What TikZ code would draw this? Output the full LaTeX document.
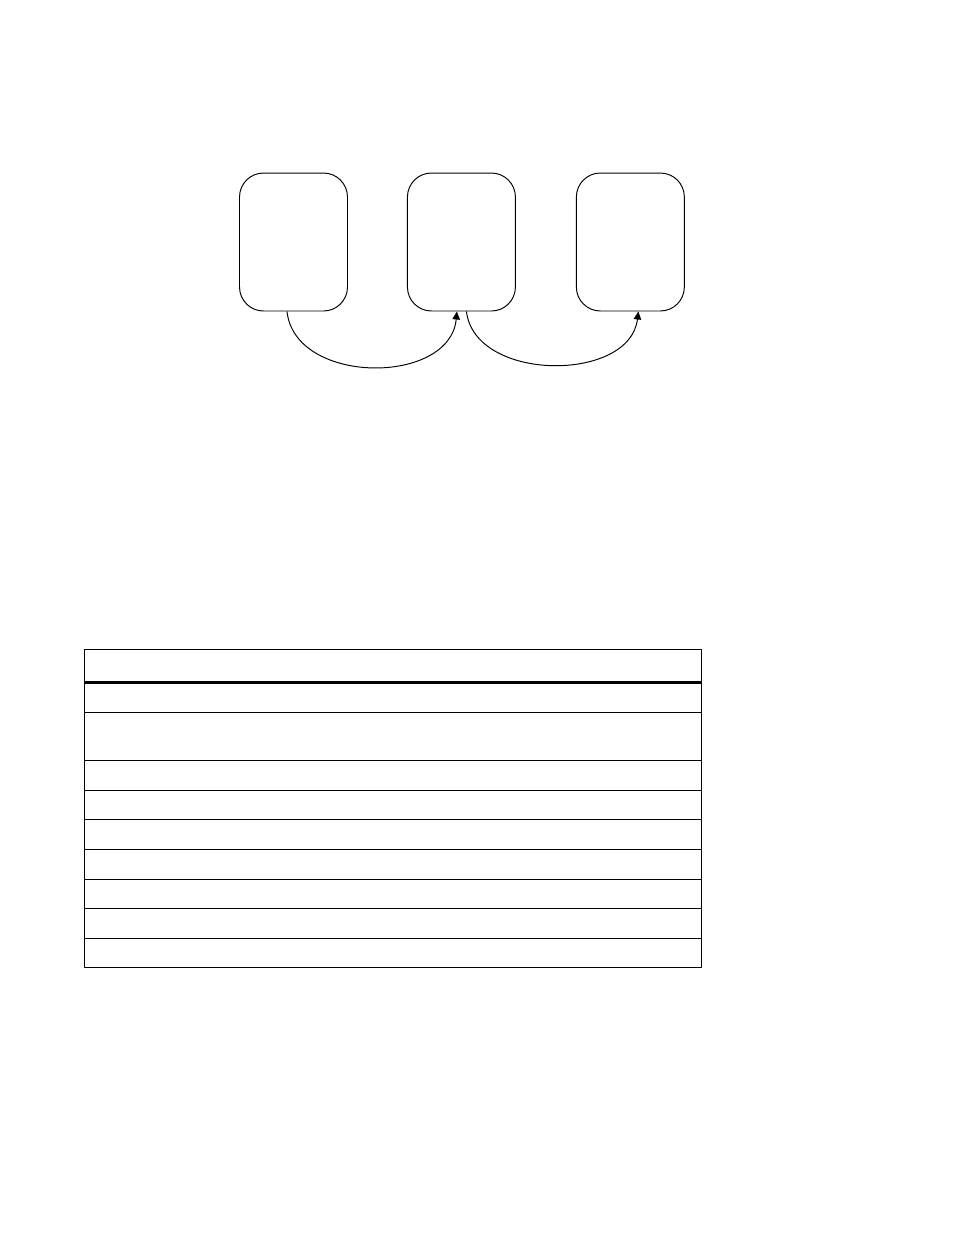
\documentclass[tikz,border=0pt]{standalone}
\usetikzlibrary{positioning,arrows.meta}
\tikzset{
  stage/.style={draw, line width=0.55pt, rounded corners=0.48cm, minimum width=2.16cm, minimum height=2.76cm, inner sep=0pt},
  flow/.style={line width=0.55pt, ->},
  rowline/.style={line width=0.75pt}
}
\begin{document}
\begin{tikzpicture}[x=0.02cm, y=-0.02cm, line join=round, >={Triangle[length=1.6mm,width=1.5mm]}]
	\useasboundingbox (0,0) rectangle (954,1235);
	\node[stage] (s1) at (293.5,242) {};
	\node[stage, right=1.18cm of s1] (s2) {};
	\node[stage, right=1.2cm of s2] (s3) {};
	\coordinate (o1) at ([xshift=-0.13cm]s1.south);
	\coordinate (i2) at ([xshift=-0.09cm]s2.south);
	\coordinate (o2) at ([xshift=0.1cm]s2.south);
	\coordinate (i3) at ([xshift=0.16cm]s3.south);
	\draw[flow] (o1) .. controls ([yshift=-1.48cm]o1-|295,0) and ([yshift=-1.48cm]i2-|450,0) .. (i2);
	\draw[flow] (o2) .. controls ([yshift=-1.42cm]o2-|475,0) and ([yshift=-1.42cm]i3-|630,0) .. (i3);
	% table
	\draw[rowline] (84.3,649.3) rectangle (701.3,967.7);
	\draw[line width=1.5pt] (84.3,682.3) -- (701.3,682.3);
	\foreach \y in {712.3,760.3,790.3,819.3,849.3,879.3,908.3,938.3}
		\draw[rowline] (84.3,\y) -- (701.3,\y);
\end{tikzpicture}
\end{document}
